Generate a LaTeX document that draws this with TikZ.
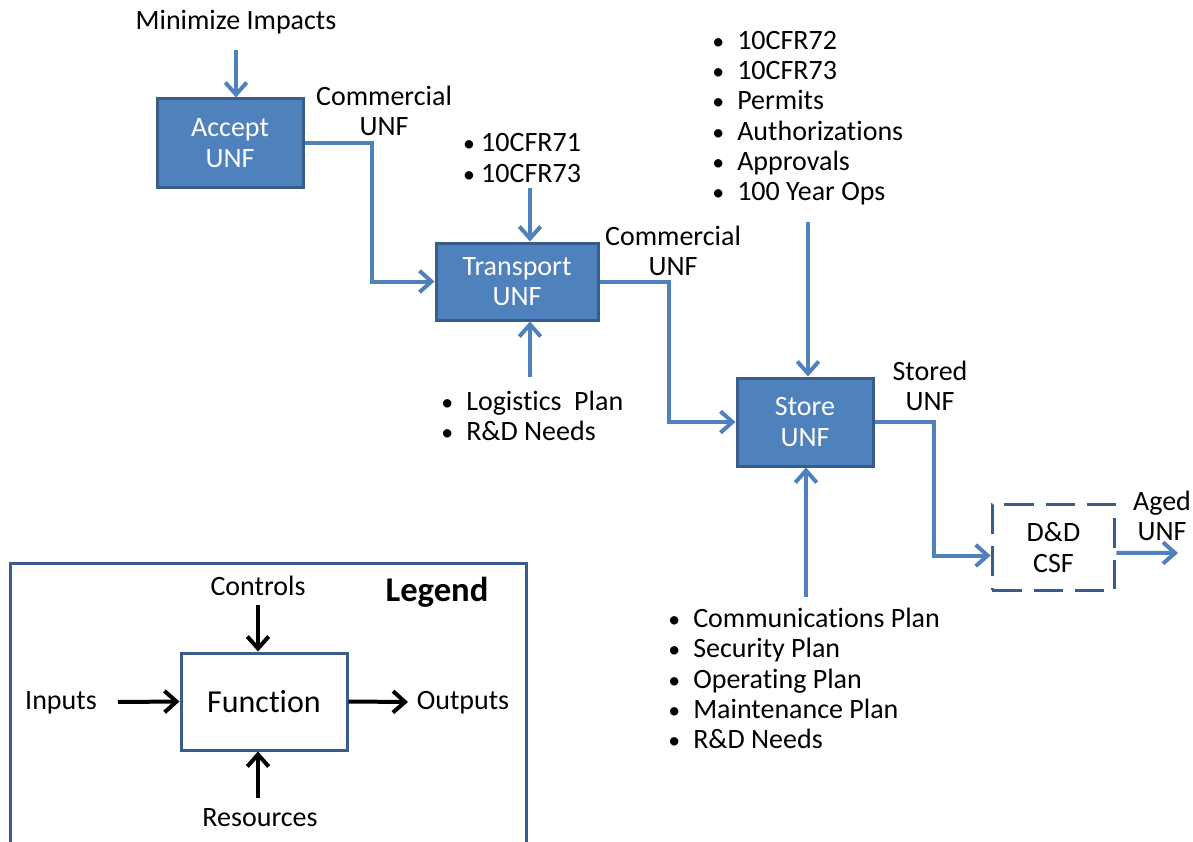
\documentclass[tikz,border=0pt]{standalone}
\usepackage{fontspec}
\setmainfont{Carlito}[Ligatures=NoCommon]
\usetikzlibrary{arrows.meta}
\definecolor{boxblue}{RGB}{79,129,189}
\definecolor{edgeblue}{RGB}{56,93,138}
\tikzset{ func/.style 2 args={draw=edgeblue,fill=boxblue,line width=2.25pt,text=white,align=center,minimum width=#1,minimum height=#2},
  future/.style 2 args={draw=edgeblue,fill=white,line width=2.25pt,dash pattern=on 22pt off 9pt,align=center,minimum width=#1,minimum height=#2},
  flow/.style={draw=boxblue,line width=3pt,-{Straight Barb[length=9pt,width=16pt]}},
  larrow/.style={draw=black,line width=3pt,-{Straight Barb[length=9pt,width=16pt]}},
  lbl/.style={align=center,inner sep=0pt},
  lst/.style={align=left,inner sep=0pt,anchor=north west} }
\newcommand{\bitem}[1]{\makebox[18.75pt][l]{\scalebox{0.85}{\textbullet}}#1}

\begin{document}
\begin{tikzpicture}[x=0.75pt,y=-0.75pt,font=\fontsize{21}{22.7}\selectfont]
   \useasboundingbox (0,0) rectangle (1193,842);
   % functions
   \node[func={109.5pt}{66pt}] (acc) at (230,143) {Accept\\UNF};
   \node[func={121.5pt}{57.75pt}] (trn) at (517,281.5) {Transport\\UNF};
   \node[func={102pt}{66pt}] (sto) at (805,422) {Store\\UNF};
   \node[future={92pt}{64pt}] (dd) at (1053.5,547.5) {D\&D\\CSF};
   % flow labels
   \node (mini) at (236,22) {Minimize Impacts};
   \node[lbl] (com1) at (384,111) {Commercial\\UNF};
   \node[lbl] (com2) at (673,251) {Commercial\\UNF};
   \node[lbl] (stored) at (930,386) {Stored\\UNF};
   \node[lbl] (aged) at (1162,516) {Aged\\UNF};
   \node[lbl] (cfr) at (522,158) {\scalebox{0.85}{\textbullet}\ 10CFR71\\\scalebox{0.85}{\textbullet}\ 10CFR73};
   \node[lst] (regs) at (712,31) {\bitem{10CFR72}\\\bitem{10CFR73}\\\bitem{Permits}\\\bitem{Authorizations}\\\bitem{Approvals}\\\bitem{100 Year Ops}};
   \node[lst] (logi) at (441,391) {\bitem{Logistics\ \ Plan}\\\bitem{R\&D Needs}};
   \node[lst] (plans) at (668,608) {\bitem{Communications Plan}\\\bitem{Security Plan}\\\bitem{Operating Plan}\\\bitem{Maintenance Plan}\\\bitem{R\&D Needs}};
   % free ends
   \coordinate (minit) at (236,50);
   \coordinate (cfrt) at (530,188);
   \coordinate (logit) at (530,377);
   \coordinate (regst) at (808,222);
   \coordinate (planst) at (806,597);
   \coordinate (agedh) at (1178,553);
   % connectors
   \draw[flow] (minit) -- (minit |- acc.north);
   \draw[flow] (acc.east) -- ++(67,0) |- (trn.west);
   \draw[flow] (cfrt) -- (cfrt |- trn.north);
   \draw[flow] (logit) -- (logit |- trn.south);
   \draw[flow] (trn.east) -- ++(69,0) |- (sto.west);
   \draw[flow] (regst) -- (regst |- sto.north);
   \draw[flow] (planst) -- (planst |- sto.south);
   \draw[flow] (sto.east) -- ++(59,0) |- ([yshift=-6pt]dd.west);
   \draw[flow] ([yshift=-4pt]dd.east) -- (agedh);
   % legend
   \draw[draw=edgeblue,line width=2.25pt] (10,845) -- (10,563) -- (526,563) -- (526,845);
   \node[font=\fontsize{26}{30}\selectfont\bfseries] (leg) at (437,592) {Legend};
   \node[draw=edgeblue,line width=2.25pt,minimum width=124.5pt,minimum height=72.75pt,font=\fontsize{24}{28}\selectfont] (fn) at (264,701.5) {Function};
   \node (ctl) at (258,586) {Controls};
   \node (inp) at (61,703) {Inputs};
   \node (outp) at (463,703) {Outputs};
   \node (res) at (260,818) {Resources};
   \coordinate (ctlt) at (258,605);
   \coordinate (inpt) at (118,702);
   \coordinate (outh) at (408,702);
   \coordinate (rest) at (258,798);
   \draw[larrow] (ctlt) -- (ctlt |- fn.north);
   \draw[larrow] (inpt) -- (fn.west);
   \draw[larrow] (fn.east) -- (outh);
   \draw[larrow] (rest) -- (rest |- fn.south);
  \end{tikzpicture}
\end{document}
